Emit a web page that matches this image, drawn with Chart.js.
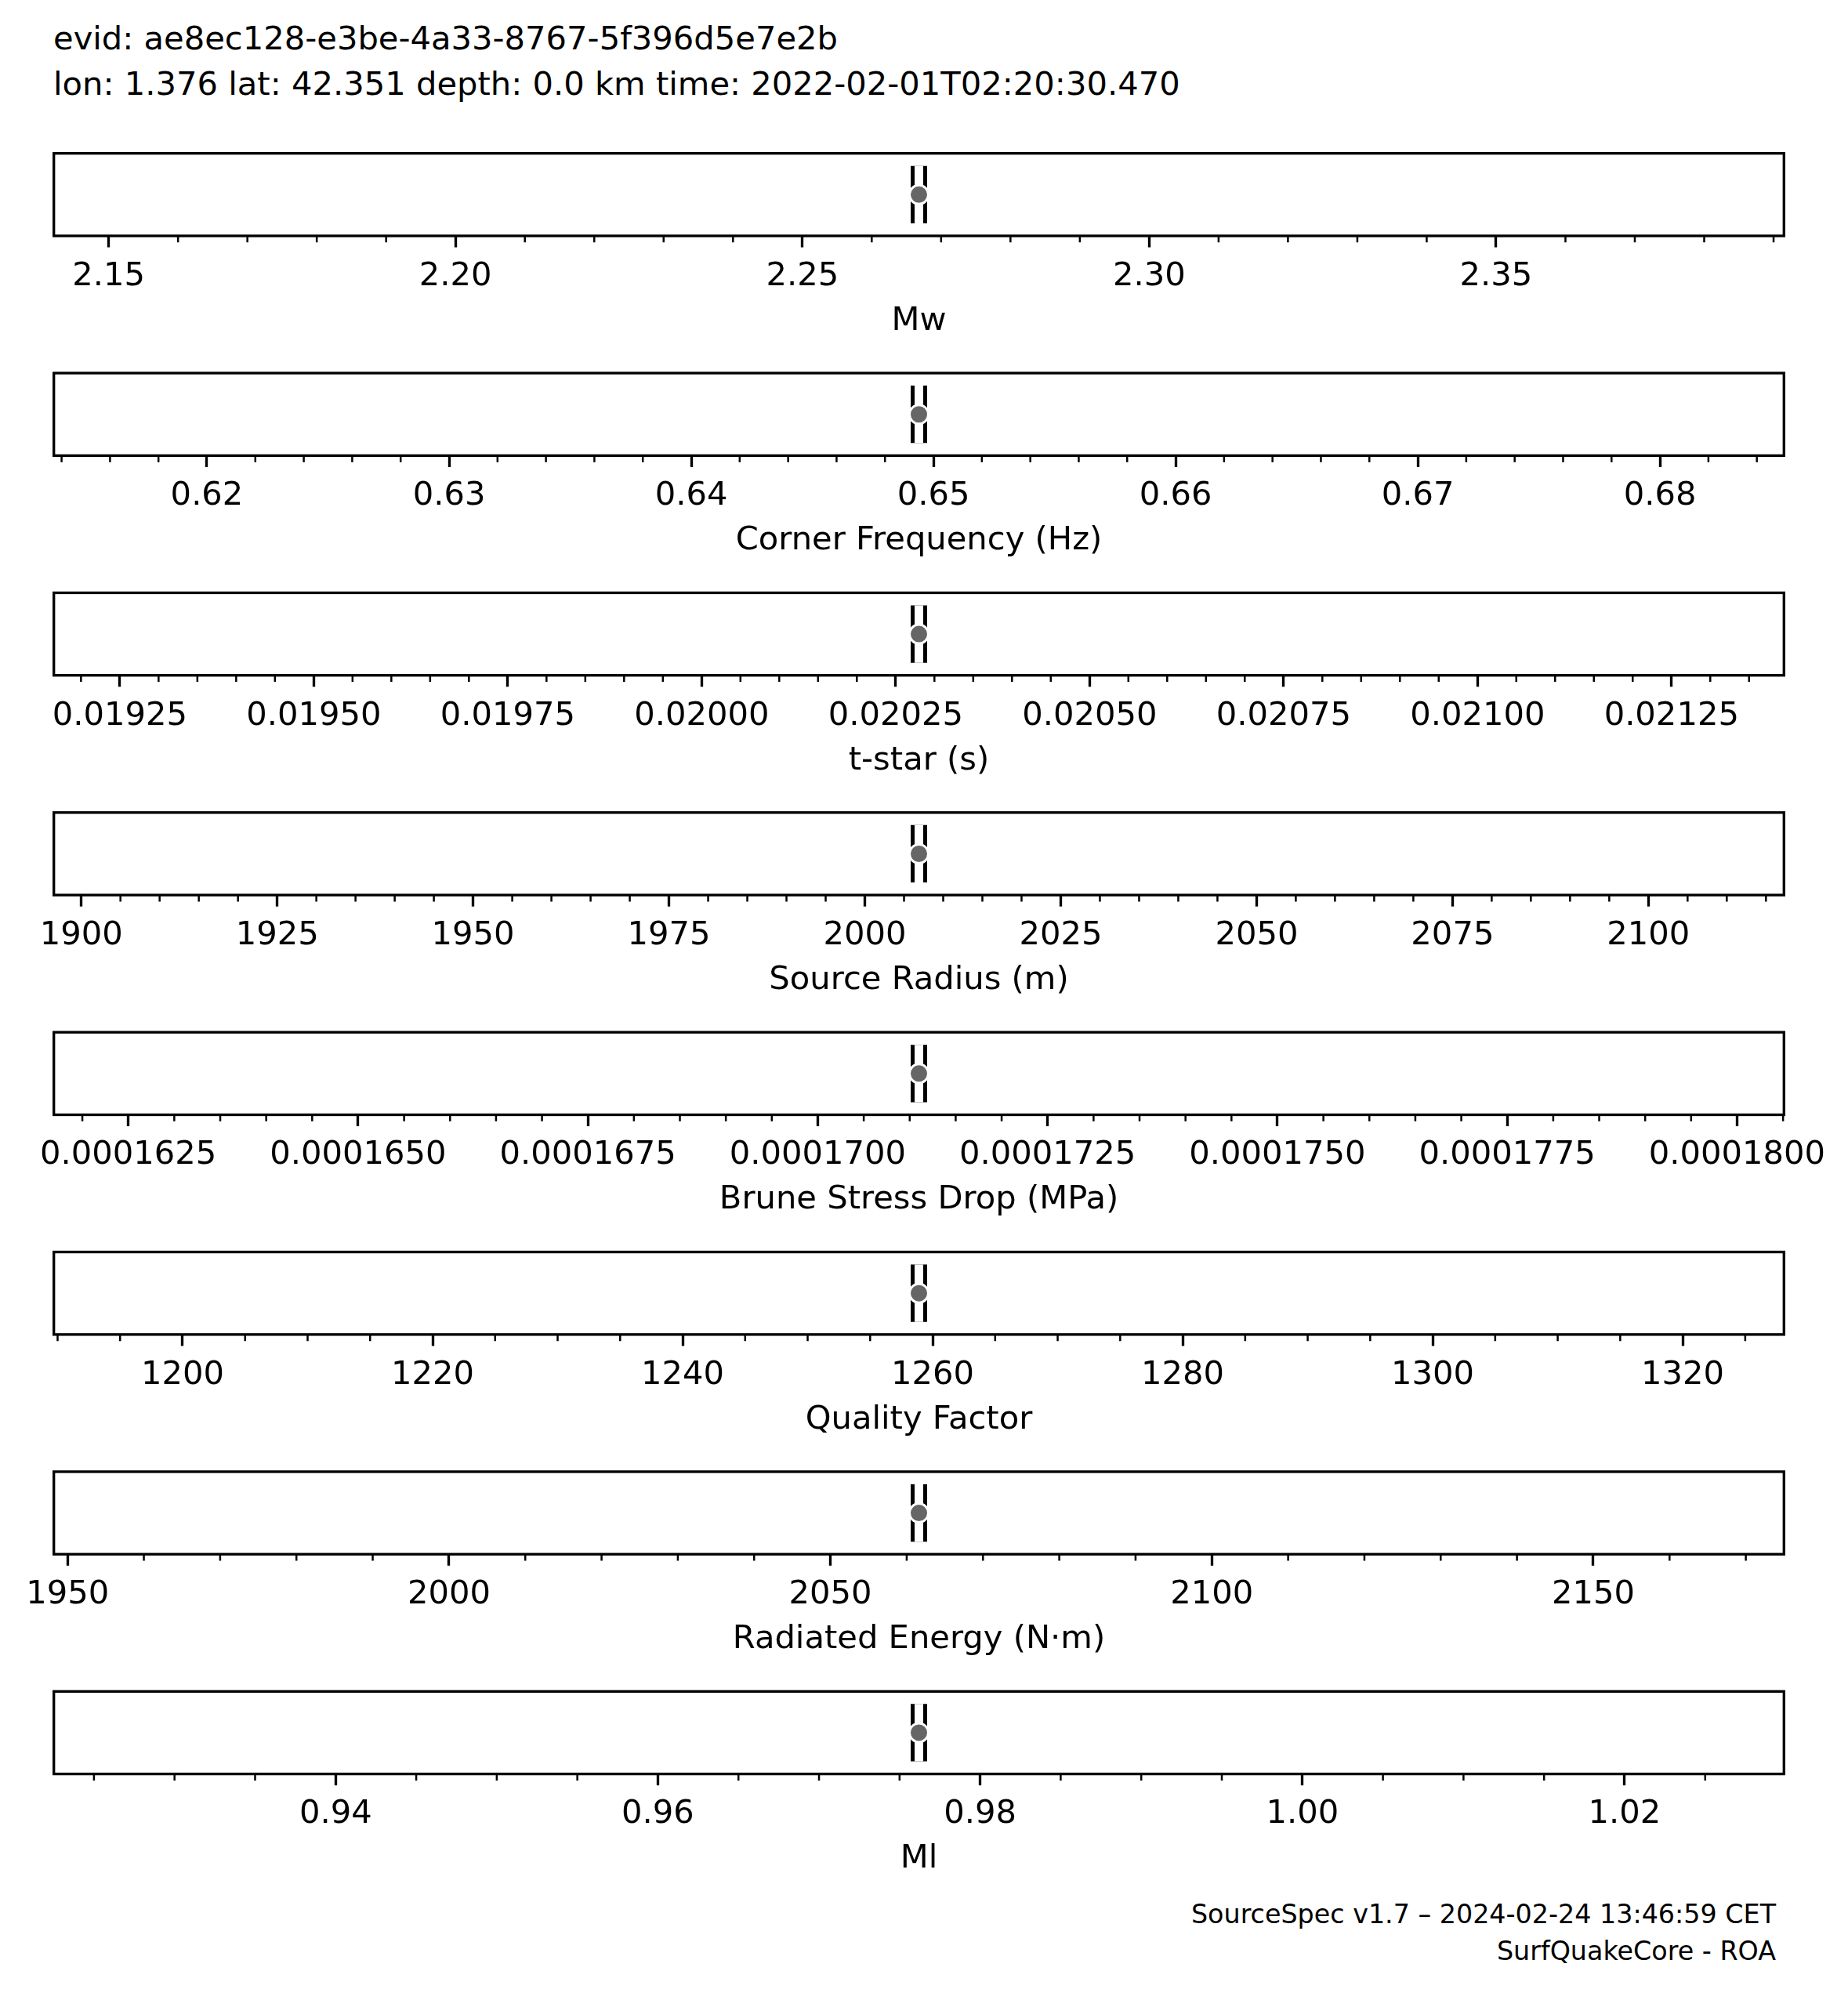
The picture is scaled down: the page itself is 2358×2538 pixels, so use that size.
<!DOCTYPE html>
<html>
<head>
<meta charset="utf-8">
<script src="https://cdn.jsdelivr.net/npm/chart.js@4.4.1/dist/chart.umd.min.js"></script>
<style>
html, body { margin: 0; padding: 0; background: #fff; }
#page { position: relative; width: 2358px; height: 2538px; background: #fff; overflow: hidden; font-family: 'DejaVu Sans'; color: #000; }
.hdr { position: absolute; left: 68px; font-size: 41.67px; line-height: 41.67px; white-space: nowrap; }
.ftr { position: absolute; right: 92px; font-size: 33.33px; line-height: 33.33px; white-space: nowrap; text-align: right; }
#page canvas { position: absolute; left: 0; }
</style>
</head>
<body>
<div id="page">
  <div class="hdr" style="top:27.7px">evid: ae8ec128-e3be-4a33-8767-5f396d5e7e2b</div>
  <div class="hdr" style="top:85.7px">lon: 1.376 lat: 42.351 depth: 0.0 km time: 2022-02-01T02:20:30.470</div>
  <div class="ftr" style="top:2426.3px">SourceSpec v1.7 – 2024-02-24 13:46:59 CET</div>
  <div class="ftr" style="top:2472.8px">SurfQuakeCore - ROA</div>
</div>
<script>
// ---- data ----
const parameters = ['Mw', 'Corner Frequency (Hz)', 't-star (s)', 'Source Radius (m)',
  'Brune Stress Drop (MPa)', 'Quality Factor', 'Radiated Energy (N·m)', 'Ml'];
const values = [2.2668, 0.6494, 0.02028, 2006.9, 0.0001711, 1258.9, 2061.6, 0.9762];
const axisMin = [2.1421, 0.61368, 0.019165, 1896.5, 0.00016169, 1189.7, 1948.2, 0.92251];
const axisMax = [2.3915, 0.68512, 0.021395, 2117.3, 0.00018051, 1328.1, 2175.0, 1.02989];
const tickLabels = [
  ['2.15', '2.20', '2.25', '2.30', '2.35'],
  ['0.62', '0.63', '0.64', '0.65', '0.66', '0.67', '0.68'],
  ['0.01925', '0.01950', '0.01975', '0.02000', '0.02025', '0.02050', '0.02075', '0.02100', '0.02125'],
  ['1900', '1925', '1950', '1975', '2000', '2025', '2050', '2075', '2100'],
  ['0.0001625', '0.0001650', '0.0001675', '0.0001700', '0.0001725', '0.0001750', '0.0001775', '0.0001800'],
  ['1200', '1220', '1240', '1260', '1280', '1300', '1320'],
  ['1950', '2000', '2050', '2100', '2150'],
  ['0.94', '0.96', '0.98', '1.00', '1.02']
];
const minorSteps = [0.01, 0.002, 0.00005, 5, 0.0000005, 5, 10, 0.005];

// ---- layout / style ----
const PAGE_W = 2358;
const PT = 300 / 72;
const FS = 10 * PT;
const FRAME_L = 68.7, FRAME_R = 2276.3;
const FRAME_TOP0 = 195.7, PANEL_STEP = 280.37, FRAME_H = 105.3;
const AXIS_H = 140, CANVAS_H = 270;
const BOX_LO = 0.652, BOX_HI = 1.348;

Chart.defaults.font.family = "'DejaVu Sans'";
Chart.defaults.color = '#000';

const framePlugin = {
  id: 'frame',
  afterDraw(chart) {
    const k = chart.options.plugins.frame.index;
    const a = chart.chartArea;
    const sx = chart.scales.x;
    const ctx = chart.ctx;
    const majors = tickLabels[k].map(parseFloat);
    const step = minorSteps[k];
    ctx.save();
    ctx.strokeStyle = '#000';
    ctx.lineWidth = 0.6 * PT;
    ctx.beginPath();
    const i0 = Math.ceil(sx.min / step - 1e-9), i1 = Math.floor(sx.max / step + 1e-9);
    for (let i = i0; i <= i1; i++) {
      const v = i * step;
      if (majors.some(m => Math.abs(m - v) < step * 1e-3)) continue;
      const px = sx.getPixelForValue(v);
      ctx.moveTo(px, a.bottom);
      ctx.lineTo(px, a.bottom + 2 * PT);
    }
    ctx.stroke();
    ctx.lineWidth = 0.8 * PT;
    ctx.strokeRect(a.left, a.top, a.right - a.left, a.bottom - a.top);
    ctx.restore();
  }
};

const page = document.getElementById('page');
for (let k = 0; k < parameters.length; k++) {
  const frameTop = FRAME_TOP0 + PANEL_STEP * k;
  const top = Math.floor(frameTop) - 20;
  const padTop = frameTop - top;
  const padBottom = CANVAS_H - padTop - FRAME_H - AXIS_H;
  const cv = document.createElement('canvas');
  cv.width = PAGE_W; cv.height = CANVAS_H;
  cv.style.width = PAGE_W + 'px'; cv.style.height = CANVAS_H + 'px';
  cv.style.top = top + 'px';
  page.appendChild(cv);
  const majors = tickLabels[k].map(parseFloat);
  new Chart(cv, {
    type: 'scatter',
    data: {
      datasets: [
        { data: [{ x: values[k], y: 1 }], pointRadius: 12, pointHoverRadius: 12, pointBorderWidth: 3,
          pointBackgroundColor: '#666666', pointBorderColor: '#ffffff', order: 0 },
        { data: [{ x: values[k], y: BOX_LO }, { x: values[k], y: BOX_HI }], showLine: true,
          borderColor: '#ffffff', borderWidth: 11, pointRadius: 0, order: 1 },
        { data: [{ x: values[k], y: BOX_LO }, { x: values[k], y: BOX_HI }], showLine: true,
          borderColor: '#000000', borderWidth: 21, pointRadius: 0, order: 2 }
      ]
    },
    options: {
      responsive: false,
      animation: false,
      events: [],
      devicePixelRatio: 1,
      layout: { padding: { left: FRAME_L, right: PAGE_W - FRAME_R, top: padTop, bottom: padBottom } },
      plugins: { legend: { display: false }, tooltip: { enabled: false }, frame: { index: k } },
      scales: {
        x: {
          type: 'linear', position: 'bottom', bounds: 'data',
          min: axisMin[k], max: axisMax[k],
          afterBuildTicks: s => { s.ticks = majors.map(v => ({ value: v })); },
          afterFit: s => { s.height = AXIS_H; },
          border: { display: false },
          grid: { display: true, drawOnChartArea: false, drawTicks: true,
                  tickLength: 3.5 * PT, tickWidth: 0.8 * PT, tickColor: '#000' },
          ticks: { autoSkip: false, maxRotation: 0, minRotation: 0, padding: 12.4, color: '#000',
                   font: { size: FS, lineHeight: 1.2 },
                   callback: (val, i) => tickLabels[k][i] },
          title: { display: true, text: parameters[k], color: '#000',
                   font: { size: FS, lineHeight: 1.2 }, padding: { top: 0, bottom: 6 } }
        },
        y: { type: 'linear', display: false, min: 0.5, max: 1.5 }
      }
    },
    plugins: [framePlugin]
  });
}
</script>
</body>
</html>
